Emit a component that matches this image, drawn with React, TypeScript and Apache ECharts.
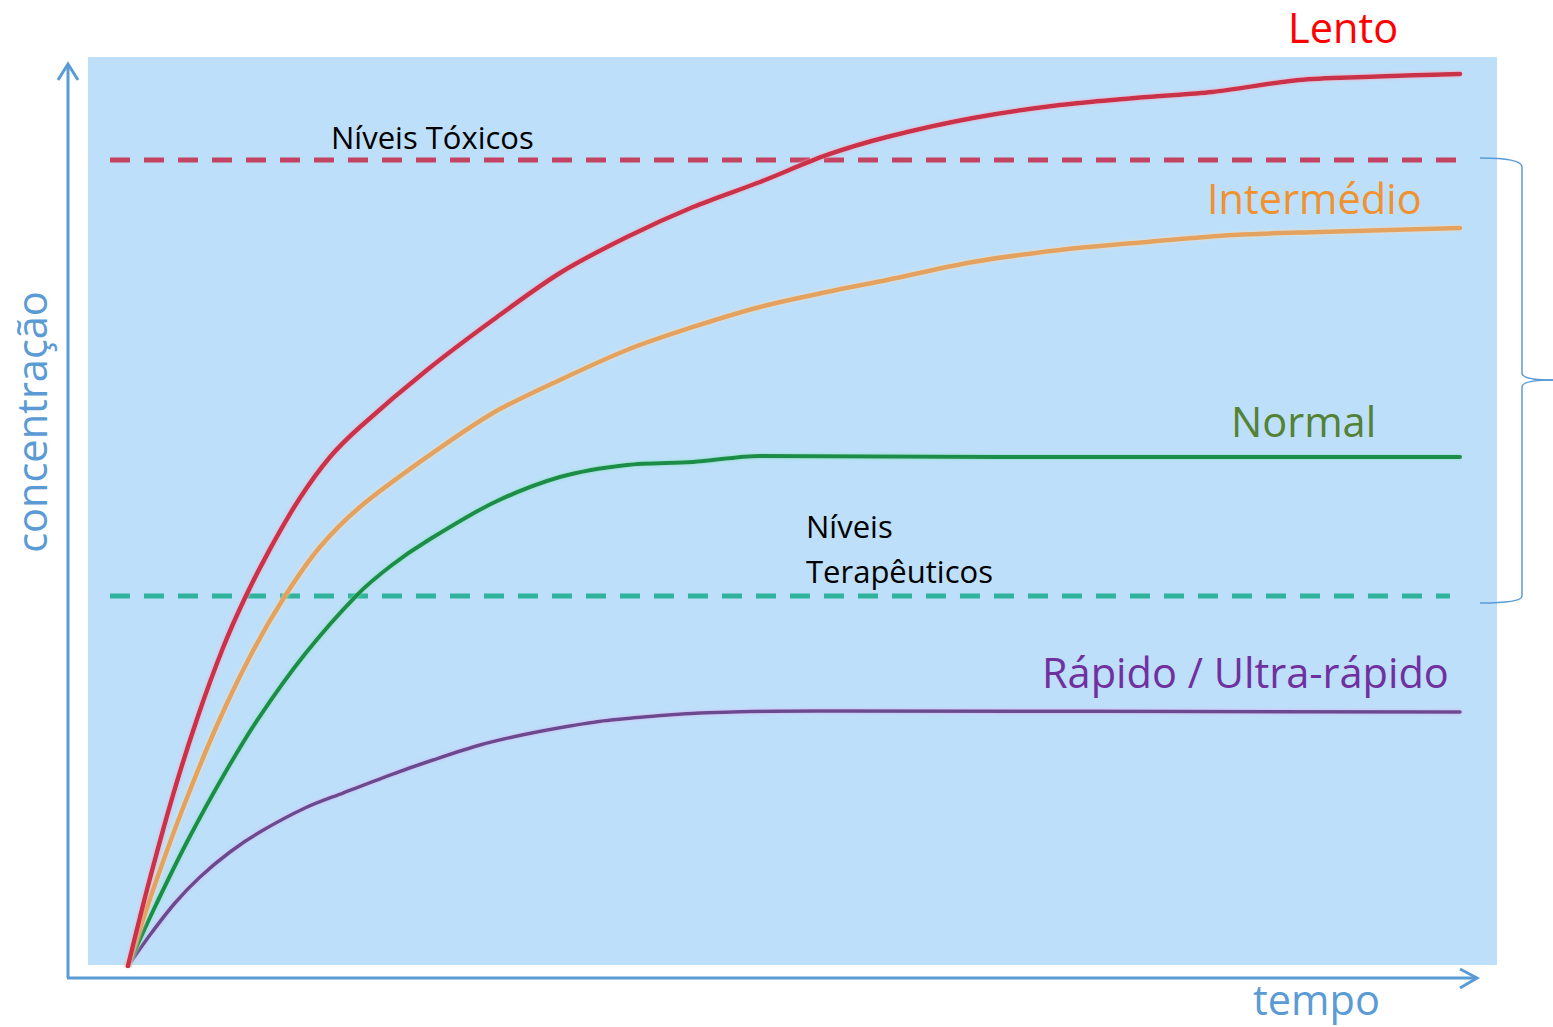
import React, { useEffect, useRef } from "react";
import * as echarts from "echarts";

// time (0-100) vs concentration (0-100)
const lento: number[][] = [
  [0, 0], [1.5, 8.8], [3.38, 18.81], [5.26, 27.5], [7.13, 34.98], [8.78, 40.48],
  [10.66, 45.87], [12.91, 51.49], [15.17, 56.0], [17.42, 59.3], [22.45, 65.57],
  [27.4, 71.07], [32.43, 76.24], [37.46, 80.2], [42.42, 83.5], [47.45, 86.25],
  [52.48, 89.22], [56.98, 91.2], [63.44, 93.29], [69.97, 94.72], [76.5, 95.6],
  [81.38, 96.15], [87.91, 97.47], [92.79, 97.8], [100, 98.13],
];
const intermedio: number[][] = [
  [0, 0], [1.88, 8.36], [4.13, 17.38], [6.76, 26.73], [9.38, 34.65], [11.79, 40.7],
  [14.41, 46.09], [17.42, 50.5], [22.45, 56.0], [27.4, 60.84], [32.43, 64.47],
  [37.46, 67.77], [42.42, 70.3], [47.45, 72.5], [52.48, 74.15], [56.98, 75.47],
  [63.44, 77.45], [69.97, 78.77], [76.5, 79.65], [83.03, 80.42], [89.49, 80.75],
  [100, 81.19],
];
const normal: number[][] = [
  [0, 0], [1.88, 6.05], [4.43, 13.64], [7.28, 21.23], [9.76, 27.17], [13.29, 34.32],
  [17.19, 40.81], [19.82, 44.11], [22.45, 46.75], [27.4, 50.94], [32.43, 53.8],
  [37.46, 55.12], [42.42, 55.45], [47.45, 56.11], [65.47, 56.0], [100, 56.0],
];
const rapido: number[][] = [
  [0, 0], [1.65, 3.41], [3.53, 6.93], [5.41, 9.79], [7.66, 12.54], [9.91, 14.74],
  [13.29, 17.38], [16.14, 19.03], [19.67, 21.01], [22.9, 22.66], [26.43, 24.31],
  [29.58, 25.41], [33.18, 26.4], [36.26, 27.06], [42.94, 27.83], [51.95, 28.05],
  [100, 27.94],
];

const toxicLevel = 88.67;
const therapeuticLevel = 40.7;
const levelStart = -1.35;
const toxicEnd = 100;
const therapeuticEnd = 99.25;

const FONT = "'Open Sans', 'Noto Sans', sans-serif";
const AXIS_BLUE = "#5b9bd5";

export default function App() {
  const ref = useRef<HTMLDivElement>(null);

  useEffect(() => {
    document.body.style.margin = "0";
    const chart = echarts.init(ref.current!, undefined, { renderer: "svg" });

    const curve = (name: string, data: number[][], color: string, width: number, glow: string) => ({
      type: "line",
      name,
      data,
      showSymbol: false,
      smooth: 0.3,
      silent: true,
      z: 3,
      lineStyle: { color, width, cap: "round", shadowColor: glow, shadowBlur: 3 },
    });

    const level = (name: string, y: number, x1: number, color: string) => ({
      type: "line",
      name,
      data: [[levelStart, y], [x1, y]],
      showSymbol: false,
      silent: true,
      z: 2,
      lineStyle: { color, width: 5, type: [20, 14] },
    });

    const txt = (text: string, x: number, y: number, size: number, color: string, extra: any = {}) => ({
      type: "text",
      x,
      y,
      z: 5,
      silent: true,
      ...extra,
      style: {
        text,
        fill: color,
        font: `${size}px ${FONT}`,
        align: extra.align || "left",
        verticalAlign: "middle",
      },
    });

    const stroke = { stroke: AXIS_BLUE, lineWidth: 3, fill: "none" };
    const brace = { stroke: AXIS_BLUE, lineWidth: 1.5, fill: "none" };

    chart.setOption({
      animation: false,
      grid: { left: 88, right: 93, top: 57, bottom: 61 },
      xAxis: { type: "value", min: -3, max: 100, show: false },
      yAxis: { type: "value", min: 0, max: 100, show: false },
      series: [
        level("Níveis Tóxicos", toxicLevel, toxicEnd, "#c44360"),
        level("Níveis Terapêuticos", therapeuticLevel, therapeuticEnd, "#2fb39c"),
        curve("Rápido / Ultra-rápido", rapido, "#6a4a8e", 3.5, "rgba(220,170,240,0.9)"),
        curve("Normal", normal, "#1f8c48", 4, "rgba(120,230,170,0.9)"),
        curve("Intermédio", intermedio, "#e3a25e", 4.5, "rgba(255,220,170,0.9)"),
        curve("Lento", lento, "#c9304a", 4.5, "rgba(255,160,180,0.9)"),
      ],
      graphic: [
        { type: "rect", z: 0, silent: true, shape: { x: 88, y: 57, width: 1409, height: 908 }, style: { fill: "#bddffa" } },
        // axes
        { type: "line", z: 1, silent: true, shape: { x1: 68, y1: 978, x2: 68, y2: 64 }, style: stroke },
        { type: "polyline", z: 1, silent: true, shape: { points: [[58, 80], [68, 64], [78, 80]] }, style: stroke },
        { type: "line", z: 1, silent: true, shape: { x1: 67, y1: 978, x2: 1477, y2: 978 }, style: stroke },
        { type: "polyline", z: 1, silent: true, shape: { points: [[1460, 969], [1477, 978], [1460, 988]] }, style: stroke },
        // brace
        { type: "bezierCurve", z: 1, silent: true, shape: { x1: 1480, y1: 158, cpx1: 1505, cpy1: 158, cpx2: 1522, cpy2: 160, x2: 1522, y2: 167 }, style: brace },
        { type: "line", z: 1, silent: true, shape: { x1: 1522, y1: 167, x2: 1522, y2: 373 }, style: brace },
        { type: "bezierCurve", z: 1, silent: true, shape: { x1: 1522, y1: 373, cpx1: 1522, cpy1: 378, cpx2: 1535, cpy2: 380, x2: 1553, y2: 380 }, style: brace },
        { type: "bezierCurve", z: 1, silent: true, shape: { x1: 1553, y1: 380, cpx1: 1535, cpy1: 380, cpx2: 1522, cpy2: 382, x2: 1522, y2: 387 }, style: brace },
        { type: "line", z: 1, silent: true, shape: { x1: 1522, y1: 387, x2: 1522, y2: 596 }, style: brace },
        { type: "bezierCurve", z: 1, silent: true, shape: { x1: 1522, y1: 596, cpx1: 1522, cpy1: 601, cpx2: 1505, cpy2: 603, x2: 1480, y2: 603 }, style: brace },
        // labels
        txt("Lento", 1288, 27, 41.5, "#ff0000"),
        txt("Intermédio", 1207, 198, 41.5, "#f0922f"),
        txt("Normal", 1231, 421, 41.5, "#548235"),
        txt("Rápido / Ultra-rápido", 1042, 672, 41.5, "#7030a0"),
        txt("Níveis Tóxicos", 331, 137, 31, "#000000"),
        txt("Níveis", 806, 526, 31, "#000000"),
        txt("Terapêuticos", 806, 571, 31, "#000000"),
        txt("tempo", 1253, 999, 41.5, AXIS_BLUE),
        txt("concentração", 31, 422, 41.5, AXIS_BLUE, { rotation: Math.PI / 2, align: "center" }),
      ],
    });

    return () => chart.dispose();
  }, []);

  return <div ref={ref} style={{ width: 1553, height: 1027 }} />;
}
